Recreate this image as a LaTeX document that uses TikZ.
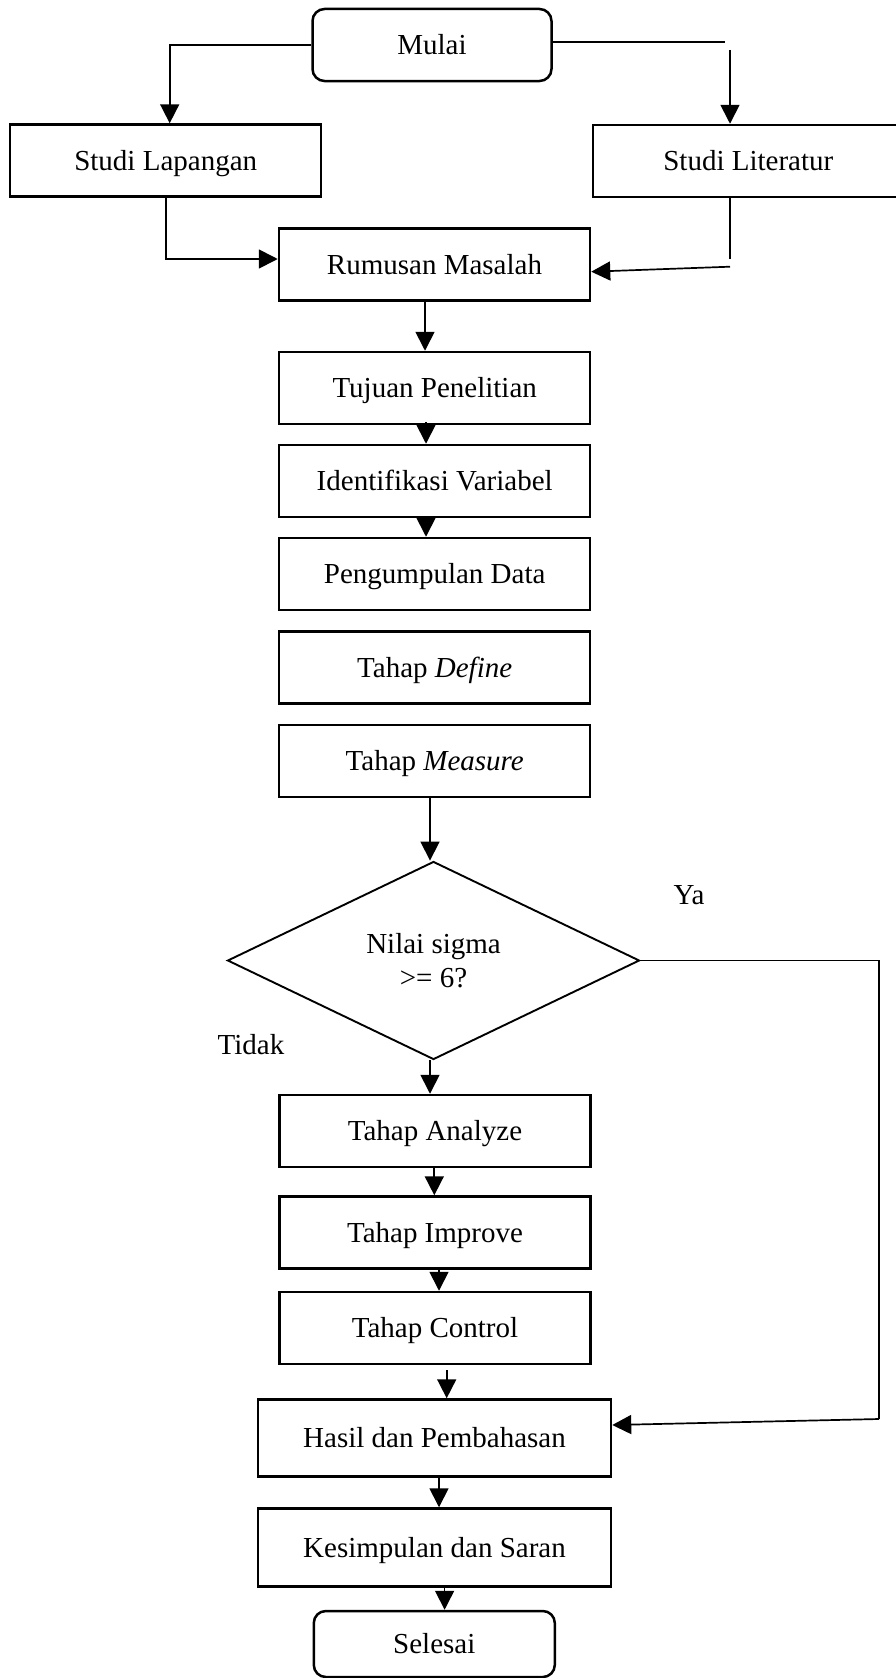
\documentclass[tikz,border=0pt]{standalone}
\usepackage{fontspec}
\setmainfont{Liberation Serif}
\usetikzlibrary{shapes.geometric,arrows.meta}
\begin{document}
\begin{tikzpicture}[x=1pt,y=-1pt,
  txt/.style={font=\fontsize{29}{34}\selectfont},
  box/.style={draw, line width=2.5pt, rectangle, inner sep=0pt, minimum width=311pt, minimum height=72pt, text height=19pt, text depth=0pt, txt},
  term/.style={box, rounded corners=12pt},
  conn/.style={line width=1.7pt},
  arr/.style={conn, -{Triangle[length=19pt,width=19pt]}},
  lbl/.style={inner sep=0pt, txt}
]
\useasboundingbox (0,0) rectangle (896,1678);

\node[term, minimum width=239pt] (mulai) at (432,45) {Mulai};
\node[box] (lap) at (165.7,160.5) {Studi Lapangan};
\node[box] (lit) at (748.3,161) {Studi Literatur};
\node[box] (rum) at (434.5,264.7) {Rumusan Masalah};
\node[box] (tuj) at (434.7,388) {Tujuan Penelitian};
\node[box] (ide) at (434.7,481) {Identifikasi Variabel};
\node[box] (pen) at (434.7,574) {Pengumpulan Data};
\node[box] (def) at (434.7,667.5) {Tahap \textit{Define}};
\node[box] (mea) at (434.7,761) {Tahap \textit{Measure}};
\node[draw, diamond, line width=1.9pt, minimum width=412pt, minimum height=198pt, inner sep=0pt, aspect=2.08, align=center, txt] (dia) at (433.5,960.5) {Nilai sigma\\>= 6?};
\node[lbl] (ya) at (689,895) {Ya};
\node[lbl] (tidak) at (251,1045) {Tidak};
\node[box] (ana) at (435,1131) {Tahap Analyze};
\node[box] (imp) at (435,1232.5) {Tahap Improve};
\node[box] (con) at (435,1328) {Tahap Control};
\node[box, minimum width=353pt, minimum height=77pt] (has) at (434.5,1438) {Hasil dan Pembahasan};
\node[box, minimum width=353pt, minimum height=78pt] (kes) at (434.5,1547.5) {Kesimpulan dan Saran};
\node[term, minimum width=241pt, minimum height=66pt] (sel) at (434.3,1644) {Selesai};

% top branches
\draw[arr] (mulai.west) -| ([xshift=4pt]lap.north);
\coordinate (r1) at (724.6,42.3);
\draw[conn] ([yshift=2.7pt]mulai.east) -- (r1);
\coordinate (r2) at (730,50);
\draw[arr] (r2) -- (r2 |- lit.north);
\coordinate (l1) at (165.7,259);
\draw[arr] (lap.south) -- (l1) -- (l1 -| rum.west);
\coordinate (l2) at (730,259.3);
\draw[conn] (l2 |- lit.south) -- (l2);
\coordinate (l3) at (730,266.7);
\draw[arr] (l3) -- ([yshift=-7pt]rum.east);

% main column
\draw[arr] ([xshift=-9.5pt]rum.south) -- ([xshift=-9.7pt]tuj.north);
\draw[arr] ([xshift=-8.7pt,yshift=3pt]tuj.south) -- ([xshift=-8.7pt]ide.north);
\draw[arr] ([xshift=-8.7pt]ide.south) -- ([xshift=-8.7pt]pen.north);
\draw[arr] ([xshift=-4.7pt]mea.south) -- ([xshift=-3.5pt]dia.north);
\draw[arr] ([xshift=-3.5pt]dia.south) -- ([xshift=-5pt]ana.north);
\draw[arr] ([xshift=-0.7pt]ana.south) -- ([xshift=-0.7pt]imp.north);
\draw[arr] ([xshift=4pt]imp.south) -- ([xshift=4pt]con.north);
\draw[arr] ([xshift=11.7pt,yshift=-5pt]con.south) -- ([xshift=12.2pt]has.north);
\draw[arr] ([xshift=4.5pt]has.south) -- ([xshift=4.5pt]kes.north);
\draw[arr] ([xshift=10.1pt]kes.south) -- ([xshift=10.3pt]sel.north);

% Ya loop
\coordinate (d1) at (879,963);
\coordinate (d2) at (879,1419);
\draw[conn] (dia.east) -- (d1 |- dia.east) -- (d2);
\draw[arr] (d2) -- ([yshift=13pt]has.east);
\end{tikzpicture}
\end{document}
